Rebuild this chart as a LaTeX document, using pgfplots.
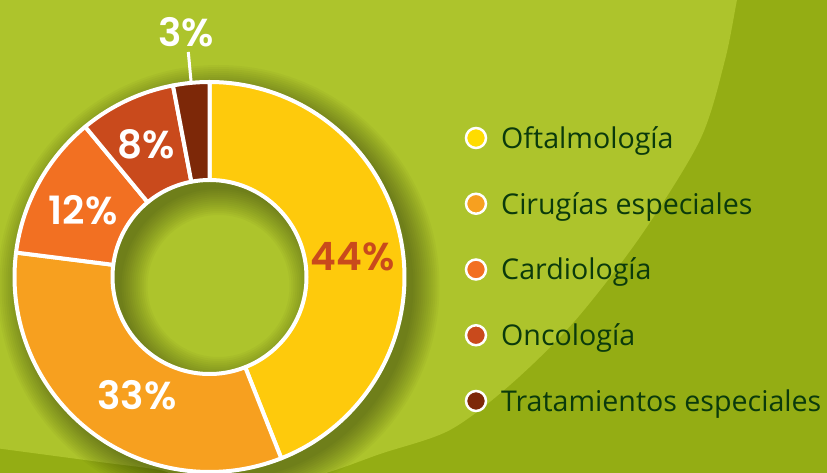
\documentclass[border=0pt]{standalone}
\usepackage{pgfplots}
\pgfplotsset{compat=1.18}
\usepackage{pgfplotstable}
\usepackage{fontspec}
\setmainfont{Open Sans}
\newfontfamily\pctfont{Poppins}[UprightFont=* SemiBold]
\definecolor{bgdark}{HTML}{94AD14}
\definecolor{bglight}{HTML}{ADC42C}
\definecolor{cOft}{HTML}{FECA0C}
\definecolor{cCir}{HTML}{F7A01F}
\definecolor{cCar}{HTML}{F27022}
\definecolor{cOnc}{HTML}{C94A1C}
\definecolor{cTra}{HTML}{7D2808}
\definecolor{bulOft}{HTML}{FFDC00}
\definecolor{legtext}{HTML}{0B3A0C}

% shares of each area (%)
\pgfplotstableread{
share
44
33
12
8
3
}\shares
\pgfplotstablegetelem{0}{share}\of\shares\let\vA\pgfplotsretval
\pgfplotstablegetelem{1}{share}\of\shares\let\vB\pgfplotsretval
\pgfplotstablegetelem{2}{share}\of\shares\let\vC\pgfplotsretval
\pgfplotstablegetelem{3}{share}\of\shares\let\vD\pgfplotsretval
\pgfplotstablegetelem{4}{share}\of\shares\let\vE\pgfplotsretval
\pgfmathsetmacro\tA{90}
\pgfmathsetmacro\tB{\tA-3.6*\vA}
\pgfmathsetmacro\tC{\tB-3.6*\vB}
\pgfmathsetmacro\tD{\tC-3.6*\vC}
\pgfmathsetmacro\tE{\tD-3.6*\vD}
\pgfmathsetmacro\tF{\tE-3.6*\vE}
\def\cx{209.5}
\def\cy{196}
\def\Rout{195}
\def\Rin{97}
\def\sx{218.5}
\def\sy{187}

\newcommand\slice[3]{%
  \pgfmathsetmacro\ix{\cx+\Rin*cos(#3)}%
  \pgfmathsetmacro\iy{\cy+\Rin*sin(#3)}%
  \edef\temp{\noexpand\addplot[fill=#1, draw=white, line width=4pt, line join=round, domain=#2:#3, samples=120] ({\cx+\Rout*cos(x)},{\cy+\Rout*sin(x)}) -- (axis cs:\ix,\iy) arc[start angle=#3, end angle=#2, radius=\Rin pt] -- cycle;}%
  \temp
}
\newcommand\legitem[3]{%
  \draw[fill=#1, draw=white, line width=2.5pt] (axis cs:476,#2) circle[radius=10pt];
  \node[anchor=base west, inner sep=0pt, text=legtext, font=\fontsize{28.6}{32}\selectfont] at (axis cs:501,#2-10.5) {#3};
}

\begin{document}
\begin{tikzpicture}
\begin{axis}[x=1pt, y=1pt, xmin=0, xmax=827, ymin=0, ymax=473,
  hide axis, scale only axis, clip=true]
  % background
  \fill[bgdark] (axis cs:-5,-5) rectangle (axis cs:832,478);
  \fill[bglight] plot[smooth, tension=0.5] coordinates {
    (-5,25) (100,11) (160,3) (190,-6) (300,-6) (383,20) (450,43) (510,88)
    (573,150) (640,236) (700,333) (725,413) (737,473) (740,482)}
    -- (-5,482) -- cycle;
  % soft shadow of the ring
  \pgfplotsinvokeforeach{0,2,...,26}{
    \fill[black, opacity=0.028, even odd rule]
      (axis cs:\sx,\sy) circle[radius={(\Rout+#1)*1pt}]
      (axis cs:\sx,\sy) circle[radius={(\Rin-#1)*1pt}];
  }
  % ring slices
  \slice{cOft}{\tB}{\tA}
  \slice{cCir}{\tC}{\tB}
  \slice{cCar}{\tD}{\tC}
  \slice{cOnc}{\tE}{\tD}
  \slice{cTra}{\tF}{\tE}
  % leader for the smallest slice
  \addplot[white, line width=3pt] coordinates {(191.1,391) (188.3,421)};
  % value labels
  \node[font=\pctfont\fontsize{39}{44}\selectfont, text=cOnc] at (axis cs:352.5,216) {44\%};
  \node[font=\pctfont\fontsize{39}{44}\selectfont, text=white] at (axis cs:137,78) {33\%};
  \node[font=\pctfont\fontsize{39}{44}\selectfont, text=white] at (axis cs:83,263) {12\%};
  \node[font=\pctfont\fontsize{39}{44}\selectfont, text=white] at (axis cs:146,329) {8\%};
  \node[font=\pctfont\fontsize{39}{44}\selectfont, text=white] at (axis cs:186,441) {3\%};
  % legend
  \legitem{bulOft}{335}{Oftalmología}
  \legitem{cCir}{269.25}{Cirugías especiales}
  \legitem{cCar}{203.5}{Cardiología}
  \legitem{cOnc}{137.75}{Oncología}
  \legitem{cTra}{72}{Tratamientos especiales}
\end{axis}
\end{tikzpicture}
\end{document}
